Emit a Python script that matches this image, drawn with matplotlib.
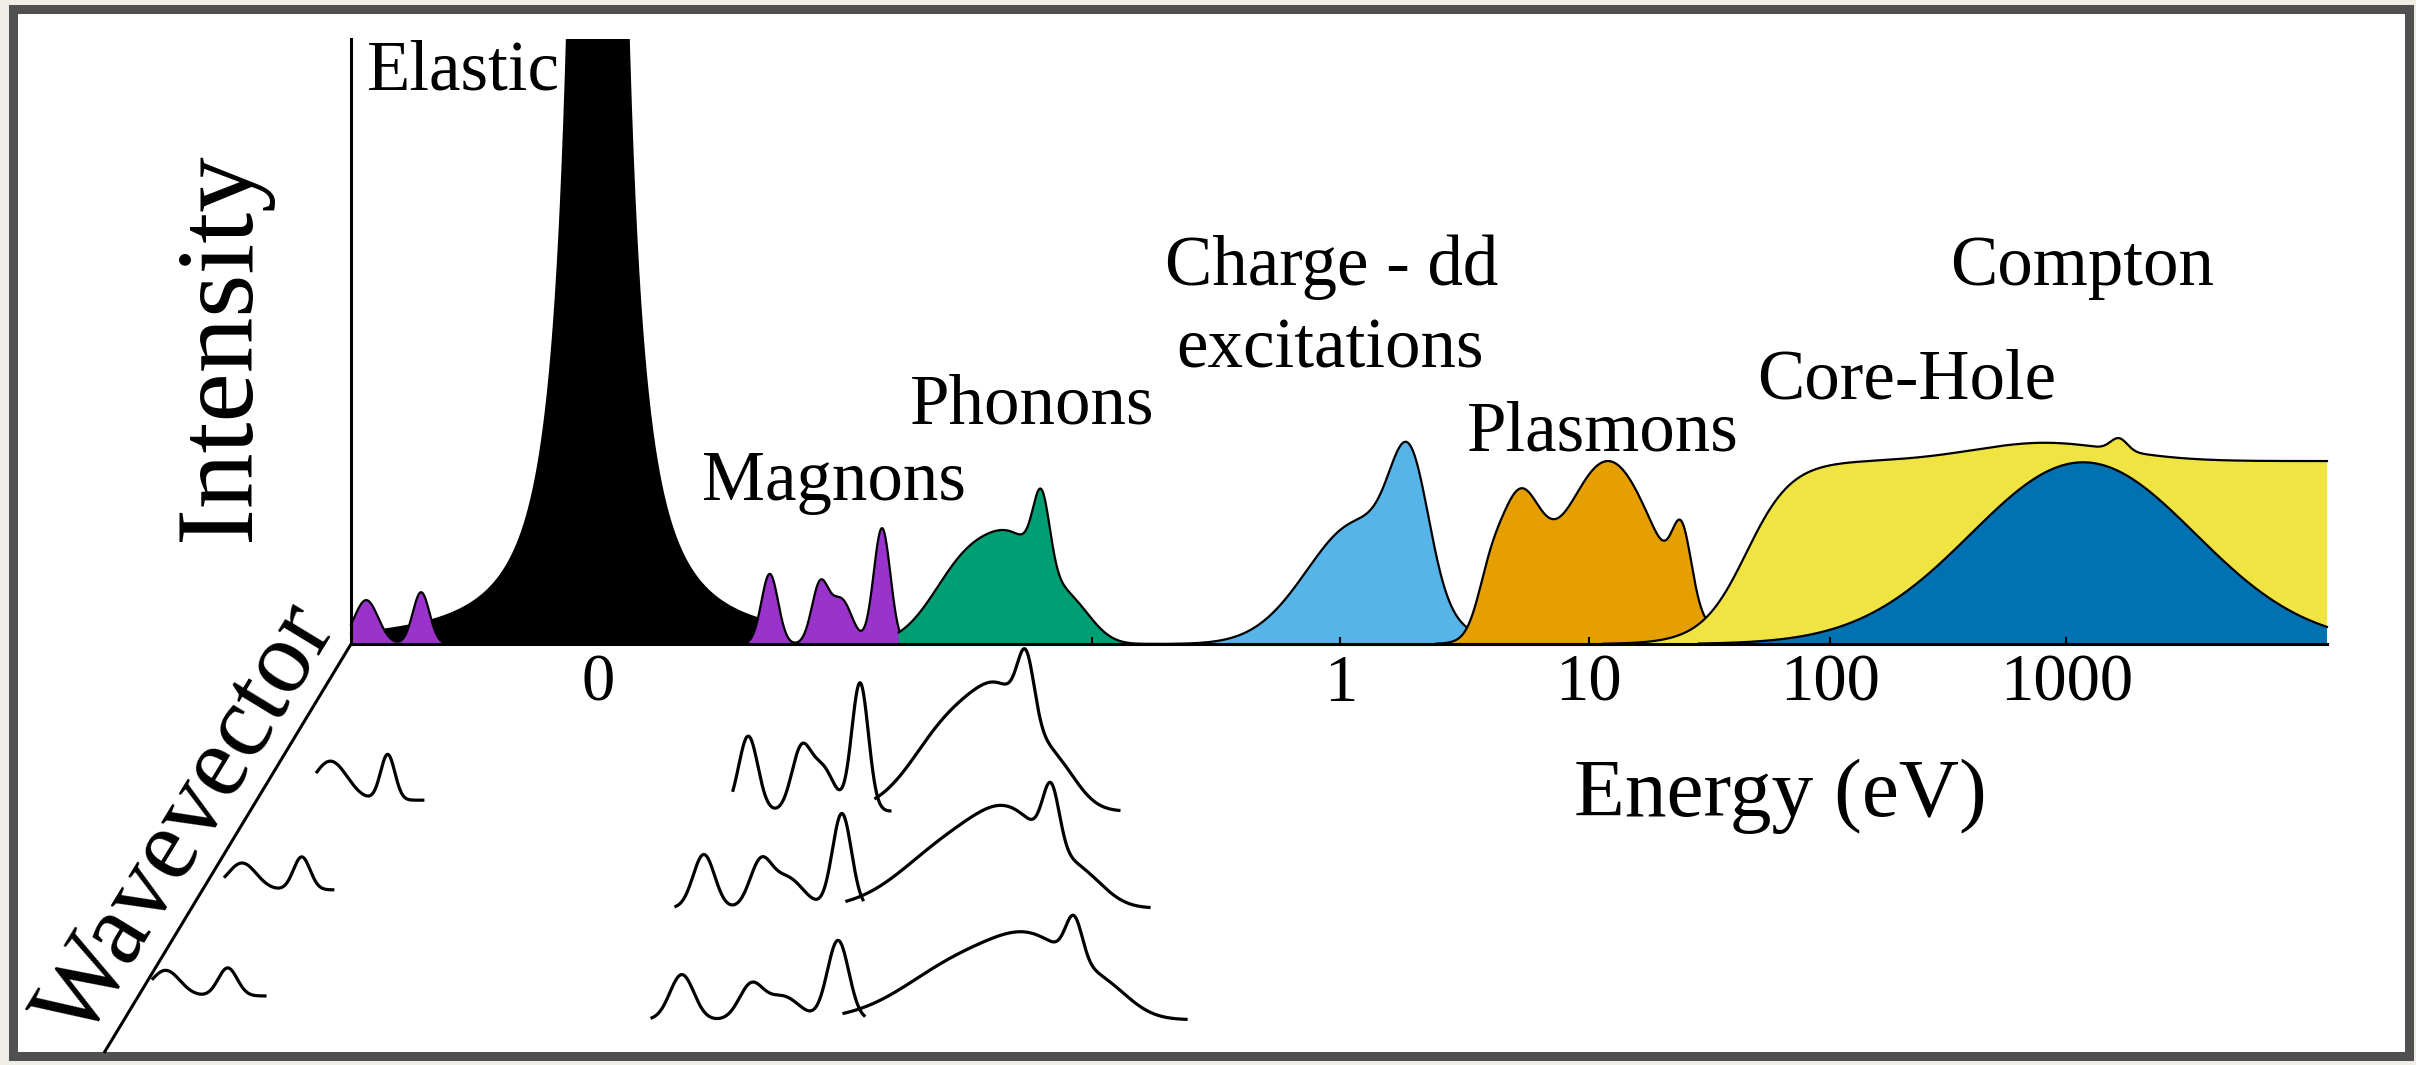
import numpy as np
import matplotlib
matplotlib.use("Agg")
import matplotlib.pyplot as plt
from matplotlib.patches import Rectangle

plt.rcParams['font.family'] = ['Liberation Serif', 'DejaVu Serif']

# ---------------- data (energy axis in schematic log units, intensity 0..1) -------------
E_TICK_POS = [-3.11, 0.0, 1.04, 2.05, 3.04]
E_TICK_LABELS = ['0', '1', '10', '100', '1000']
E_MINOR_TICKS = [-1.04]

ELASTIC_CENTER = -3.11
ELASTIC_GAMMA = 0.05
ELASTIC_AMP = 7.6
ELASTIC_RANGE = [-4.1436, -2.42]

MAGNON_LEFT_CENTERS = [-4.08, -3.85]
MAGNON_LEFT_WIDTHS = [0.05, 0.035]
MAGNON_LEFT_HEIGHTS = [0.072, 0.085]
MAGNON_LEFT_RANGE = [-4.1436, -3.70]

# row 0 = filled spectrum, rows 1..3 = wavevector cuts
MAGNON_CENTERS = [[-2.39, -2.18, -2.09, -1.92],
                  [-2.48, -2.26, -2.17, -2.012],
                  [-2.666, -2.43, -2.32, -2.088],
                  [-2.758, -2.469, -2.335, -2.104]]
MAGNON_WIDTHS = [[0.035, 0.035, 0.045, 0.035],
                 [0.04, 0.04, 0.05, 0.035],
                 [0.045, 0.045, 0.07, 0.04],
                 [0.05, 0.05, 0.07, 0.045]]
MAGNON_HEIGHTS = [[0.115, 0.095, 0.072, 0.19],
                  [0.123, 0.095, 0.07, 0.21],
                  [0.088, 0.068, 0.05, 0.155],
                  [0.074, 0.055, 0.038, 0.13]]
MAGNON_RANGES = [[-2.48, -1.83], [-2.544, -1.887], [-2.783, -2.0], [-2.883, -1.995]]

PHONON_CENTERS = [[-1.55, -1.33, -1.252, -1.12],
                  [-1.61, -1.39, -1.317, -1.18],
                  [-1.60, -1.35, -1.212, -1.08],
                  [-1.55, -1.25, -1.116, -0.98]]
PHONON_WIDTHS = [[0.15, 0.12, 0.035, 0.09],
                 [0.17, 0.12, 0.035, 0.09],
                 [0.22, 0.15, 0.035, 0.10],
                 [0.25, 0.17, 0.035, 0.11]]
PHONON_HEIGHTS = [[0.14, 0.12, 0.12, 0.05],
                  [0.15, 0.13, 0.105, 0.055],
                  [0.11, 0.10, 0.10, 0.04],
                  [0.10, 0.085, 0.07, 0.035]]
PHONON_RANGES = [[-1.85, -0.75], [-1.946, -0.928], [-2.067, -0.802], [-2.079, -0.647]]

ROW_BASELINES = [0.0, -0.274, -0.433, -0.616]

MINI_CENTERS = [[-4.23, -3.99], [-4.60, -4.35], [-4.92, -4.66]]
MINI_WIDTHS = [[0.07, 0.03], [0.06, 0.035], [0.06, 0.04]]
MINI_HEIGHTS = [[0.064, 0.075], [0.044, 0.054], [0.042, 0.046]]
MINI_RANGES = [[-4.286, -3.843], [-4.671, -4.22], [-4.973, -4.504]]
MINI_BASELINES = [-0.256, -0.403, -0.577]

CHARGE_CENTERS = [0.08, 0.29]
CHARGE_WIDTHS = [0.22, 0.08]
CHARGE_HEIGHTS = [0.2, 0.2]
CHARGE_RANGE = [-0.85, 0.75]

PLASMON_CENTERS = [0.62, 0.74, 1.12, 1.43]
PLASMON_WIDTHS = [0.05, 0.09, 0.2, 0.04]
PLASMON_HEIGHTS = [0.05, 0.2, 0.3, 0.11]
PLASMON_RANGE = [0.40, 1.90]

COREHOLE_EDGE = [1.70, 0.095, 0.30]   # center, width, plateau height
COREHOLE_CENTERS = [2.95, 3.26]
COREHOLE_WIDTHS = [0.3, 0.035]
COREHOLE_HEIGHTS = [0.03, 0.02]
COREHOLE_RANGE = [1.1, 4.131]

COMPTON_CENTERS = [3.11]
COMPTON_WIDTHS = [0.47]
COMPTON_HEIGHTS = [0.298]
COMPTON_RANGE = [1.5, 4.131]

AXIS_LEFT = -4.1436
AXIS_RIGHT = 4.131
AXIS_TOP = 0.992
WAVEVECTOR_AXIS_U = [-4.1436, -5.178]
WAVEVECTOR_AXIS_H = [0.0, -0.6705]

LABELS = ['Elastic', 'Magnons', 'Phonons', 'Charge - dd', 'excitations',
          'Plasmons', 'Core-Hole', 'Compton']
LABEL_U = [-3.674, -2.121, -1.292, -0.036, -0.044, 1.099, 2.372, 3.105]
LABEL_H = [0.910, 0.236, 0.362, 0.589, 0.454, 0.318, 0.403, 0.589]

COLORS = dict(elastic='#000000', magnon='#9933CC', phonon='#009E73',
              charge='#56B4E9', plasmon='#E69F00', corehole='#F0E442',
              compton='#0072B2')


def peaks(u, centers, widths, heights):
    u = np.asarray(u, float)[:, None]
    c = np.asarray(centers, float)
    w = np.asarray(widths, float)
    h = np.asarray(heights, float)
    return (h * np.exp(-0.5 * ((u - c) / w) ** 2)).sum(axis=1)


def grid(rng, n=700):
    return np.linspace(rng[0], rng[1], n)


fig = plt.figure(figsize=(24.16, 10.65), dpi=100, facecolor='#f1eee8')
frame = Rectangle((12.5 / 2416, 9 / 1065), 2396 / 2416, 1047 / 1065,
                  transform=fig.transFigure, facecolor='white',
                  edgecolor='#505050', linewidth=6.5, zorder=-5)
fig.add_artist(frame)

ax = fig.add_axes([0, 0, 1, 1026 / 1065])
ax.set_xlim(-5.6135, 4.5038)
ax.set_ylim(-0.6902, AXIS_TOP)
ax.patch.set_visible(False)

OUT_LW = 1.6


def filled(u, y, color, z):
    ax.fill_between(u, 0, y, facecolor=color, edgecolor='none', linewidth=0, zorder=z)
    ax.plot(u, y, color='black', lw=OUT_LW, zorder=z + 0.1)


# elastic
u = grid(ELASTIC_RANGE, 1500)
y = ELASTIC_AMP * ELASTIC_GAMMA ** 2 / ((u - ELASTIC_CENTER) ** 2 + ELASTIC_GAMMA ** 2)
filled(u, y, COLORS['elastic'], 2)

# magnons
u = grid(MAGNON_LEFT_RANGE)
filled(u, peaks(u, MAGNON_LEFT_CENTERS, MAGNON_LEFT_WIDTHS, MAGNON_LEFT_HEIGHTS),
       COLORS['magnon'], 3)
u = grid(MAGNON_RANGES[0])
filled(u, peaks(u, MAGNON_CENTERS[0], MAGNON_WIDTHS[0], MAGNON_HEIGHTS[0]),
       COLORS['magnon'], 3.5)

# phonons
u = grid(PHONON_RANGES[0])
filled(u, peaks(u, PHONON_CENTERS[0], PHONON_WIDTHS[0], PHONON_HEIGHTS[0]),
       COLORS['phonon'], 4)

# charge / dd
u = grid(CHARGE_RANGE)
filled(u, peaks(u, CHARGE_CENTERS, CHARGE_WIDTHS, CHARGE_HEIGHTS), COLORS['charge'], 5)

# plasmons
u = grid(PLASMON_RANGE)
filled(u, peaks(u, PLASMON_CENTERS, PLASMON_WIDTHS, PLASMON_HEIGHTS), COLORS['plasmon'], 6)

# core hole
u = grid(COREHOLE_RANGE, 1200)
c0, w0, h0 = COREHOLE_EDGE
y = h0 / (1 + np.exp(-(u - c0) / w0)) + peaks(u, COREHOLE_CENTERS, COREHOLE_WIDTHS, COREHOLE_HEIGHTS)
filled(u, y, COLORS['corehole'], 7)

# compton
u = grid(COMPTON_RANGE)
filled(u, peaks(u, COMPTON_CENTERS, COMPTON_WIDTHS, COMPTON_HEIGHTS), COLORS['compton'], 8)

# wavevector cuts
LINE_LW = 2.3
for r in range(1, 4):
    b = ROW_BASELINES[r]
    u = grid(MAGNON_RANGES[r])
    ax.plot(u, b + peaks(u, MAGNON_CENTERS[r], MAGNON_WIDTHS[r], MAGNON_HEIGHTS[r]),
            color='black', lw=LINE_LW, zorder=9)
    u = grid(PHONON_RANGES[r])
    ax.plot(u, b + peaks(u, PHONON_CENTERS[r], PHONON_WIDTHS[r], PHONON_HEIGHTS[r]),
            color='black', lw=LINE_LW, zorder=9)
    m = r - 1
    u = grid(MINI_RANGES[m])
    ax.plot(u, MINI_BASELINES[m] + peaks(u, MINI_CENTERS[m], MINI_WIDTHS[m], MINI_HEIGHTS[m]),
            color='black', lw=LINE_LW, zorder=9)

# axes
for side in ('top', 'right'):
    ax.spines[side].set_visible(False)
ax.spines['bottom'].set_position(('data', 0))
ax.spines['bottom'].set_bounds(AXIS_LEFT, AXIS_RIGHT)
ax.spines['left'].set_position(('data', AXIS_LEFT))
ax.spines['left'].set_bounds(0, AXIS_TOP)
for side in ('bottom', 'left'):
    ax.spines[side].set_linewidth(2.2)
    ax.spines[side].set_zorder(20)
ax.plot(WAVEVECTOR_AXIS_U, WAVEVECTOR_AXIS_H, color='black', lw=2.2, zorder=20,
        clip_on=False, solid_capstyle='butt')

ax.set_yticks([])
ax.set_xticks(E_TICK_POS, E_TICK_LABELS)
ax.set_xticks(E_MINOR_TICKS, minor=True)
ax.tick_params(axis='x', which='both', direction='in', length=5, width=1.5, pad=7,
               labelsize=48, color='black')
ax.xaxis.set_zorder(20)

# text
for lab, lu, lh in zip(LABELS, LABEL_U, LABEL_H):
    ax.text(lu, lh, lab, fontsize=51, ha='center', va='baseline', zorder=25)

ax.text(-4.684, 0.487, 'Intensity', fontsize=80, rotation=90, ha='center', va='center')
ax.text(1.84, -0.249, 'Energy (eV)', fontsize=60, ha='center', va='center')
ax.text(-4.823, -0.293, 'Wavevector', fontsize=74, rotation=58.7, rotation_mode='anchor',
        ha='center', va='center')

fig.savefig('out.png', dpi=100, facecolor=fig.get_facecolor())
